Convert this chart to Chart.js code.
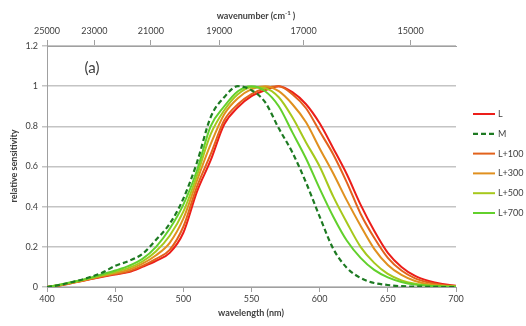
<!DOCTYPE html>
<html><head><meta charset="utf-8">
<script src="https://cdn.jsdelivr.net/npm/chart.js@4.4.1/dist/chart.umd.min.js"></script>
<style>html,body{margin:0;padding:0;background:#fff;}#wrap{width:526px;height:326px;}</style>
</head><body><div id="wrap"><canvas id="c" width="526" height="326"></canvas></div>
<script>
// wavelength (nm)
const wavelengths = [400,410,420,430,440,450,460,470,480,490,500,510,520,530,540,550,560,570,580,590,600,610,620,630,640,650,660,670,680,690,700];
const L      = [0,0.009,0.022,0.036,0.05,0.062,0.074,0.1,0.13,0.17,0.27,0.475,0.63,0.81,0.895,0.95,0.98,1.0,0.97,0.91,0.815,0.69,0.56,0.41,0.28,0.17,0.1,0.055,0.03,0.015,0.006];
const M      = [0,0.011,0.027,0.046,0.07,0.105,0.13,0.165,0.235,0.315,0.44,0.62,0.845,0.945,1.0,0.98,0.92,0.79,0.67,0.52,0.35,0.19,0.095,0.045,0.02,0.01,0.004,0.002,0.001,0,0];
const Lp100  = [0,0.009,0.023,0.037,0.052,0.065,0.078,0.105,0.14,0.185,0.3,0.5,0.66,0.83,0.91,0.96,0.99,1.0,0.96,0.89,0.775,0.66,0.52,0.365,0.245,0.145,0.082,0.043,0.022,0.01,0.004];
const Lp300  = [0,0.01,0.024,0.039,0.055,0.069,0.086,0.116,0.158,0.22,0.34,0.53,0.71,0.86,0.94,0.985,1.0,0.975,0.91,0.82,0.69,0.565,0.43,0.305,0.19,0.11,0.06,0.03,0.014,0.006,0.003];
const Lp500  = [0,0.011,0.025,0.041,0.058,0.075,0.095,0.127,0.178,0.255,0.375,0.555,0.76,0.88,0.96,0.995,0.99,0.945,0.845,0.72,0.6,0.45,0.32,0.2,0.12,0.065,0.033,0.016,0.008,0.004,0.002];
const Lp700  = [0,0.012,0.027,0.043,0.062,0.082,0.105,0.14,0.2,0.29,0.41,0.58,0.8,0.9,0.975,1.0,0.975,0.9,0.77,0.64,0.49,0.35,0.23,0.145,0.085,0.048,0.025,0.012,0.006,0.003,0.001];
const seriesLabels = ['L','M','L+100','L+300','L+500','L+700'];
const wavenumberTicks = [25000,23000,21000,19000,17000,15000];
const yTicks = [0,0.2,0.4,0.6,0.8,1,1.2];

const seriesValues = [L, M, Lp100, Lp300, Lp500, Lp700];
const seriesColors = ['#ec1e1a','#1d7a22','#e2621c','#e0901f','#a6c81c','#62d02c'];
const FONT = 'Lato, "Liberation Sans", sans-serif';
const TXT = '#404040';
const AXIS = '#a0a0a0';

const datasets = seriesLabels.map((lab, k) => ({
  label: lab,
  data: wavelengths.map((w, i) => ({x: w, y: seriesValues[k][i]})),
  borderColor: seriesColors[k],
  borderWidth: k === 1 ? 2.2 : 2,
  borderDash: k === 1 ? [5, 3] : [],
  pointRadius: 0,
  fill: false,
  cubicInterpolationMode: 'monotone',
  order: k === 1 ? -1 : 6 - k
}));

const extras = {
  id: 'extras',
  afterDraw(chart) {
    const c = chart.ctx;
    c.save();
    c.fillStyle = TXT;
    c.textBaseline = 'middle';
    // axis titles
    c.font = 'bold 9px ' + FONT;
    c.textAlign = 'center';
    c.fillText('wavelength (nm)', 251, 313);
    c.save();
    c.translate(14, 166);
    c.rotate(-Math.PI / 2);
    c.fillText('relative sensitivity', 0, 0);
    c.restore();
    // top title with superscript
    const p1 = 'wavenumber (cm', sup = '-1', p2 = ' )';
    c.font = 'bold 9px ' + FONT;
    const w1 = c.measureText(p1).width, w3 = c.measureText(p2).width;
    c.font = 'bold 6px ' + FONT;
    const w2 = c.measureText(sup).width;
    let x0 = 256 - (w1 + w2 + w3) / 2;
    c.textAlign = 'left';
    c.font = 'bold 9px ' + FONT;
    c.fillText(p1, x0, 16);
    c.font = 'bold 6px ' + FONT;
    c.fillText(sup, x0 + w1, 13);
    c.font = 'bold 9px ' + FONT;
    c.fillText(p2, x0 + w1 + w2, 16);
    // panel label
    c.font = '15px ' + FONT;
    c.textAlign = 'center';
    c.fillText('(a)', 92, 68);
    // legend
    c.font = '9px ' + FONT;
    c.textAlign = 'left';
    chart.data.datasets.forEach((ds, i) => {
      const y = 114 + i * 19.8;
      c.beginPath();
      c.strokeStyle = ds.borderColor;
      c.lineWidth = ds.borderWidth;
      c.setLineDash(ds.borderDash);
      c.moveTo(473, y); c.lineTo(495, y);
      c.stroke();
      c.setLineDash([]);
      c.fillStyle = TXT;
      c.fillText(ds.label, 498, y);
    });
    c.restore();
  }
};

new Chart(document.getElementById('c'), {
  type: 'line',
  data: {datasets},
  options: {
    responsive: false,
    animation: false,
    events: [],
    layout: {padding: {left: 0, right: 70, top: 0, bottom: 0}},
    plugins: {legend: {display: false}, tooltip: {enabled: false}},
    scales: {
      x: {
        type: 'linear', position: 'bottom', min: 400, max: 700,
        ticks: {stepSize: 50, font: {family: FONT, size: 9}, color: TXT, padding: 2, maxRotation: 0},
        grid: {drawOnChartArea: false, tickLength: 5, color: AXIS},
        border: {color: AXIS, width: 1},
        afterFit(s) { s.height = 39; }
      },
      x2: {
        type: 'linear', position: 'top', min: 400, max: 700,
        afterBuildTicks(s) { s.ticks = wavenumberTicks.map(w => ({value: 1e7 / w})); },
        ticks: {autoSkip: false, maxRotation: 0, font: {family: FONT, size: 9}, color: TXT, padding: 4,
          callback: (v, i) => String(wavenumberTicks[i])},
        grid: {drawOnChartArea: false, tickLength: 6, color: AXIS},
        border: {color: AXIS, width: 1},
        afterFit(s) { s.height = 46; }
      },
      y: {
        min: 0, max: 1.2,
        afterBuildTicks(s) { s.ticks = yTicks.map(v => ({value: v})); },
        ticks: {font: {family: FONT, size: 9}, color: TXT, padding: 4, callback: (v, i) => String(yTicks[i])},
        grid: {color: '#c4c4c4', lineWidth: 1.5, tickLength: 5},
        border: {color: AXIS, width: 1},
        afterFit(s) { s.width = 47; }
      }
    }
  },
  plugins: [extras]
});
</script></body></html>
